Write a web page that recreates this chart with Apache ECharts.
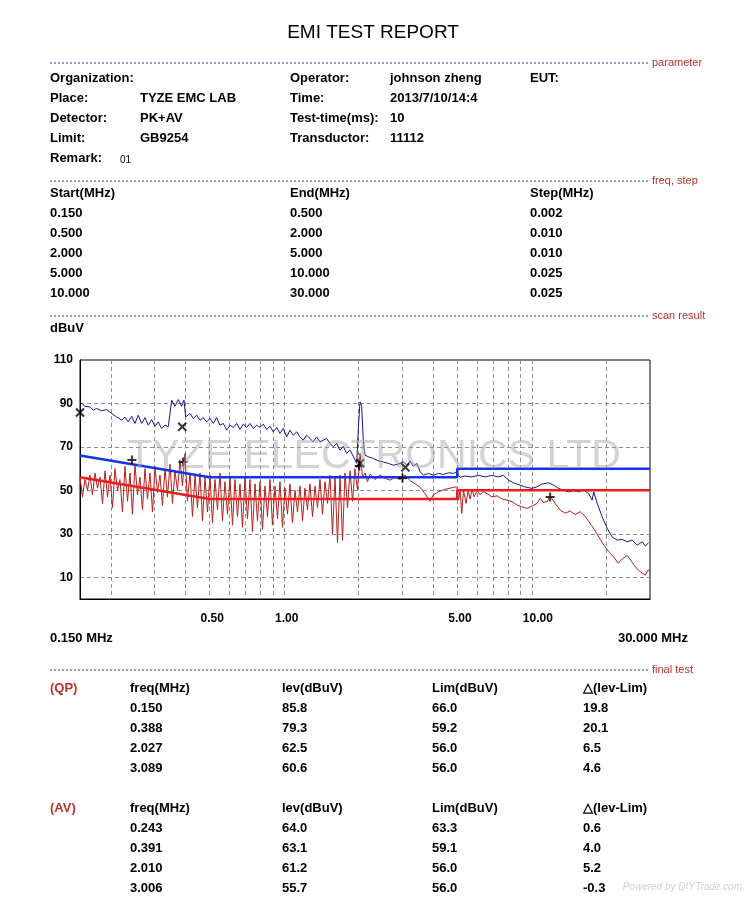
<!DOCTYPE html>
<html>
<head>
<meta charset="utf-8">
<title>EMI TEST REPORT</title>
<script src="https://cdn.jsdelivr.net/npm/echarts@6/dist/echarts.min.js"></script>
<style>
  html, body { margin: 0; padding: 0; background: #fff; }
  #chart { width: 750px; height: 900px; }
</style>
</head>
<body>
<div id="chart"></div>
<script>
// peak detector scan (MHz / dBuV)
const peakFreq = [0.150, 0.157, 0.1646, 0.1697, 0.1752, 0.1835, 0.1923, 0.2013, 0.2110, 0.2210, 0.2279, 0.2350, 0.2425, 0.2500, 0.2578, 0.2661, 0.2744, 0.2829, 0.2921, 0.3011, 0.3105, 0.3205, 0.3305, 0.3408, 0.3517, 0.3627, 0.3740, 0.3860, 0.3943, 0.4006, 0.4169, 0.4298, 0.4441, 0.4575, 0.4718, 0.4869, 0.5021, 0.5177, 0.5344, 0.5510, 0.5682, 0.5865, 0.6047, 0.6236, 0.6436, 0.6637, 0.6844, 0.7064, 0.7283, 0.7511, 0.7751, 0.7993, 0.8243, 0.8506, 0.8771, 0.9045, 0.9335, 0.9626, 0.9927, 1.0245, 1.056, 1.089, 1.124, 1.159, 1.195, 1.233, 1.272, 1.311, 1.353, 1.396, 1.439, 1.485, 1.532, 1.580, 1.630, 1.682, 1.734, 1.789, 1.846, 1.904, 1.965, 1.997, 2.025, 2.057, 2.088, 2.122, 2.187, 2.291, 2.400, 2.515, 2.635, 2.761, 2.893, 3.030, 3.128, 3.225, 3.324, 3.432, 3.539, 3.650, 3.824, 4.006, 4.197, 4.397, 4.607, 4.826, 4.979, 5.056, 5.134, 5.378, 5.723, 6.086, 6.478, 6.893, 7.332, 7.681, 8.047, 8.430, 8.971, 9.398, 10.00, 10.48, 10.98, 11.68, 12.24, 12.82, 13.43, 14.07, 14.74, 15.44, 16.18, 16.95, 17.52, 17.79, 18.37, 19.24, 20.16, 21.12, 22.12, 23.17, 24.28, 25.43, 26.64, 27.91, 28.71, 29.60];
const peakLevel = [90.7, 88.7, 88.4, 86.9, 87.7, 86.6, 87.2, 85.4, 83.8, 82.3, 83.7, 81.5, 84.1, 80.8, 84.6, 80.8, 83.5, 80.0, 82.6, 79.5, 81.5, 78.5, 80.0, 79.3, 91.5, 88.7, 91.8, 88.7, 91.5, 83.8, 85.4, 83.1, 84.6, 82.3, 83.5, 81.5, 83.1, 80.8, 83.5, 80.0, 80.8, 77.7, 80.0, 78.9, 80.8, 78.0, 80.5, 79.0, 80.8, 78.5, 80.0, 79.0, 80.5, 78.0, 79.5, 76.9, 79.0, 76.2, 78.5, 74.6, 77.7, 75.4, 76.9, 74.6, 73.1, 75.4, 73.9, 72.3, 74.6, 72.3, 73.1, 73.9, 71.6, 70.1, 71.6, 68.5, 70.3, 67.0, 68.5, 65.5, 62.4, 80.0, 90.7, 88.7, 73.1, 66.2, 65.5, 64.7, 63.6, 63.1, 62.4, 61.6, 62.1, 63.1, 61.6, 63.6, 61.1, 62.4, 58.6, 57.0, 57.8, 57.0, 57.8, 57.3, 58.1, 57.8, 58.6, 57.0, 56.0, 56.6, 56.2, 56.9, 56.2, 56.9, 56.2, 57.0, 54.7, 53.5, 52.4, 51.6, 50.9, 51.6, 52.9, 53.5, 52.4, 50.9, 50.1, 49.3, 49.8, 49.3, 50.1, 48.6, 45.5, 49.3, 44.0, 37.8, 32.5, 28.5, 27.1, 27.4, 26.3, 27.1, 24.8, 26.3, 24.4, 25.9];

// average detector scan
const avFreq = [0.150, 0.1535, 0.157, 0.1608, 0.1646, 0.1685, 0.1725, 0.1765, 0.1806, 0.1849, 0.1893, 0.1937, 0.1982, 0.2029, 0.2077, 0.2126, 0.2175, 0.2226, 0.2279, 0.2333, 0.2387, 0.2443, 0.2500, 0.2559, 0.2619, 0.2681, 0.2744, 0.2808, 0.2875, 0.2943, 0.3011, 0.3082, 0.3155, 0.3229, 0.3305, 0.3383, 0.3462, 0.3543, 0.3627, 0.3712, 0.3799, 0.3888, 0.3980, 0.4073, 0.4169, 0.4267, 0.4368, 0.4470, 0.4575, 0.4683, 0.4793, 0.4906, 0.5021, 0.5139, 0.5260, 0.5384, 0.5510, 0.5640, 0.5773, 0.5909, 0.6047, 0.6189, 0.6335, 0.6484, 0.6637, 0.6793, 0.6953, 0.7116, 0.7283, 0.7454, 0.7630, 0.7809, 0.7993, 0.8181, 0.8373, 0.8570, 0.8771, 0.8977, 0.9189, 0.9405, 0.9626, 0.9852, 1.0085, 1.032, 1.056, 1.081, 1.107, 1.133, 1.159, 1.187, 1.214, 1.243, 1.272, 1.302, 1.333, 1.364, 1.396, 1.429, 1.463, 1.497, 1.532, 1.568, 1.605, 1.643, 1.682, 1.721, 1.762, 1.803, 1.846, 1.889, 1.933, 1.979, 2.025, 2.074, 2.122, 2.171, 2.223, 2.329, 2.439, 2.556, 2.677, 2.805, 2.938, 3.078, 3.225, 3.378, 3.539, 3.707, 3.884, 3.994, 4.184, 4.465, 4.678, 4.901, 4.993, 5.054, 5.134, 5.216, 5.298, 5.428, 5.530, 5.634, 5.74, 5.85, 6.02, 6.184, 6.36, 6.60, 6.91, 7.24, 7.59, 7.95, 8.33, 8.72, 9.14, 9.57, 10.03, 10.51, 10.81, 11.11, 11.53, 11.86, 12.42, 13.02, 13.64, 14.29, 14.97, 15.68, 16.43, 16.90, 17.53, 18.20, 18.89, 19.61, 20.35, 21.32, 22.33, 23.18, 24.29, 25.20, 26.16, 27.41, 28.71, 29.52, 30.0];
const avLevel = [56, 47, 55, 50, 57, 48, 58, 51, 56, 44, 59, 47, 57, 42, 60, 50, 55, 40, 61, 45, 58, 39, 62, 48, 56, 41, 60, 46, 58, 40, 61, 49, 57, 43, 60, 47, 62, 44, 59, 50, 64, 52, 67, 45, 58, 38, 57, 42, 58, 36, 56, 40, 57, 35, 55, 41, 58, 36, 54, 39, 56, 34, 55, 38, 53, 33, 56, 37, 55, 31, 53, 36, 54, 32, 52, 38, 55, 34, 52, 37, 54, 33, 51, 39, 53, 35, 50, 40, 52, 36, 51, 41, 53, 38, 52, 42, 55, 39, 54, 44, 57, 30, 56, 26, 57, 27, 58, 42, 59, 45, 60, 50, 67, 56, 58, 54, 57.5, 55, 57, 55.5, 54.7, 56, 55, 57, 54.5, 53, 51.5, 48.5, 45, 47.8, 49.3, 50.5, 51, 51.6, 51, 45.5, 50, 39.4, 50, 44, 50, 46, 50.5, 47, 50, 48, 49.5, 48.5, 47, 47.5, 46, 45.5, 44.8, 43.2, 42.4, 41.7, 42.8, 44, 46.3, 44.5, 44.8, 47.5, 44, 40.9, 39.5, 40.5, 38.8, 40.2, 38, 36, 33.5, 30.5, 27.5, 24.5, 22, 19.5, 16.5, 18.5, 20, 17.5, 14.8, 12.5, 11, 13.5, 12.5];

// GB9254 limit lines
const qpLimitFreq = [0.15, 0.5, 5, 5, 30];
const qpLimitLevel = [66, 56, 56, 60, 60];
const avLimitFreq = [0.15, 0.5, 5, 5, 30];
const avLimitLevel = [56, 46, 46, 50, 50];

// final test points
const qpMarkFreq = [0.150, 0.388, 2.027, 3.089];
const qpMarkLevel = [85.8, 79.3, 62.5, 60.6];
const avMarkFreq = [0.243, 0.391, 2.010, 3.006, 11.86];
const avMarkLevel = [64.0, 63.1, 61.2, 55.7, 47.0];

// axes
const xGridValues = [0.2, 0.3, 0.4, 0.5, 0.6, 0.7, 0.8, 0.9, 1, 2, 3, 4, 5, 6, 7, 8, 9, 10, 20];
const xLabelValues = [0.5, 1, 5, 10];
const yGridValues = [10, 30, 50, 70, 90];
const yLabelValues = [10, 30, 50, 70, 90, 110];

// report text
const paramRows = [
  ['Organization:', '', 'Operator:', 'johnson zheng', 'EUT:'],
  ['Place:', 'TYZE EMC LAB', 'Time:', '2013/7/10/14:4', ''],
  ['Detector:', 'PK+AV', 'Test-time(ms):', '10', ''],
  ['Limit:', 'GB9254', 'Transductor:', '11112', '']
];
const stepHead = ['Start(MHz)', 'End(MHz)', 'Step(MHz)'];
const stepStart = ['0.150', '0.500', '2.000', '5.000', '10.000'];
const stepEnd = ['0.500', '2.000', '5.000', '10.000', '30.000'];
const stepSize = ['0.002', '0.010', '0.010', '0.025', '0.025'];
const finalHead = ['freq(MHz)', 'lev(dBuV)', 'Lim(dBuV)', '\u25B3(lev-Lim)'];
const qpFreqText = ['0.150', '0.388', '2.027', '3.089'];
const qpLevText = ['85.8', '79.3', '62.5', '60.6'];
const qpLimText = ['66.0', '59.2', '56.0', '56.0'];
const qpDeltaText = ['19.8', '20.1', '6.5', '4.6'];
const avFreqText = ['0.243', '0.391', '2.010', '3.006'];
const avLevText = ['64.0', '63.1', '61.2', '55.7'];
const avLimText = ['63.3', '59.1', '56.0', '56.0'];
const avDeltaText = ['0.6', '4.0', '5.2', '-0.3'];

const FONT = '"Liberation Sans", Arial, sans-serif';
const zip = (xs, ys) => xs.map((x, i) => [x, ys[i]]);

const chart = echarts.init(document.getElementById('chart'));

const graphic = [];
function text(str, x, y, opts = {}) {
  graphic.push({
    type: 'text',
    x: x,
    y: y,
    z: 10,
    style: {
      text: str,
      fill: opts.color || '#000',
      font: opts.font || ('bold 13px ' + FONT),
      textAlign: opts.align || 'left',
      verticalAlign: 'middle',
      opacity: opts.opacity == null ? 1 : opts.opacity
    }
  });
}
function section(y, name) {
  graphic.push({
    type: 'line',
    shape: { x1: 50, y1: y, x2: 648, y2: y },
    style: { stroke: '#2b3a8f', lineWidth: 1, lineDash: [2, 2] }
  });
  text(name, 652, y, { color: '#b8322c', font: '11px ' + FONT });
}

text('EMI TEST REPORT', 373, 33, { align: 'center', font: '19px ' + FONT });

section(63, 'parameter');
paramRows.forEach((r, i) => {
  const y = 78 + i * 20;
  text(r[0], 50, y);
  text(r[1], 140, y);
  text(r[2], 290, y);
  text(r[3], 390, y);
  text(r[4], 530, y);
});
text('Remark:', 50, 158);
text('01', 120, 160, { font: '10px ' + FONT });

section(181, 'freq, step');
text(stepHead[0], 50, 193);
text(stepHead[1], 290, 193);
text(stepHead[2], 530, 193);
stepStart.forEach((v, i) => {
  const y = 213 + i * 20;
  text(v, 50, y);
  text(stepEnd[i], 290, y);
  text(stepSize[i], 530, y);
});

section(316, 'scan result');
text('dBuV', 50, 328);
text('0.150 MHz', 50, 638);
text('30.000 MHz', 688, 638, { align: 'right' });

section(670, 'final test');
function finalBlock(y0, tag, cols) {
  text(tag, 50, y0, { color: '#b8322c' });
  finalHead.forEach((h, j) => text(h, [130, 282, 432, 583][j], y0));
  cols[0].forEach((v, i) => {
    const y = y0 + 20 + i * 20;
    cols.forEach((c, j) => text(c[i], [130, 282, 432, 583][j], y));
  });
}
finalBlock(688, '(QP)', [qpFreqText, qpLevText, qpLimText, qpDeltaText]);
finalBlock(808, '(AV)', [avFreqText, avLevText, avLimText, avDeltaText]);

text('TYZE ELECTRONICS LTD', 374, 457, { align: 'center', font: '41px ' + FONT, color: '#a8a8a8', opacity: 0.5 });
text('Powered by DIYTrade.com', 742, 887, { align: 'right', font: 'italic 10px ' + FONT, color: '#d0d0d0' });

const gridLine = { show: true, lineStyle: { color: '#8c8c8c', type: [4, 3], width: 1 } };

const option = {
  animation: false,
  backgroundColor: '#fff',
  grid: {
    left: 80, top: 360, width: 570, height: 239,
    show: true, borderColor: '#000', borderWidth: 1, backgroundColor: 'transparent'
  },
  xAxis: {
    type: 'log',
    logBase: 10,
    min: 0.15,
    max: 30,
    axisLine: { lineStyle: { color: '#000', width: 1 } },
    axisTick: { show: false, customValues: xGridValues },
    axisLabel: {
      customValues: xLabelValues,
      formatter: (v) => Number(v).toFixed(2),
      color: '#000',
      fontFamily: FONT,
      fontWeight: 'bold',
      fontSize: 12,
      margin: 14,
      align: 'left',
      padding: [0, 0, 0, -9]
    },
    splitLine: gridLine
  },
  yAxis: {
    type: 'value',
    min: 0,
    max: 110,
    axisLine: { show: true, lineStyle: { color: '#000', width: 1 } },
    axisTick: { show: false, customValues: yGridValues },
    axisLabel: {
      customValues: yLabelValues,
      color: '#000',
      fontFamily: FONT,
      fontWeight: 'bold',
      fontSize: 12,
      margin: 7,
      padding: [6, 0, 0, 0]
    },
    splitLine: gridLine
  },
  graphic: graphic,
  series: [
    {
      name: 'PK',
      type: 'line',
      data: zip(peakFreq, peakLevel),
      showSymbol: false,
      lineStyle: { color: '#16168a', width: 1 },
      z: 2
    },
    {
      name: 'AV',
      type: 'line',
      data: zip(avFreq, avLevel),
      showSymbol: false,
      lineStyle: { color: '#b3201c', width: 1 },
      z: 2
    },
    {
      name: 'QP limit',
      type: 'line',
      data: zip(qpLimitFreq, qpLimitLevel),
      showSymbol: false,
      lineStyle: { color: '#1633e6', width: 2.5 },
      z: 3
    },
    {
      name: 'AV limit',
      type: 'line',
      data: zip(avLimitFreq, avLimitLevel),
      showSymbol: false,
      lineStyle: { color: '#ee1c1c', width: 2.5 },
      z: 3
    },
    {
      name: 'QP final',
      type: 'scatter',
      data: zip(qpMarkFreq, qpMarkLevel),
      symbol: 'path://M0,0L10,10M10,0L0,10',
      symbolSize: 8,
      itemStyle: { color: 'none', borderColor: '#000', borderWidth: 2 },
      z: 5
    },
    {
      name: 'AV final',
      type: 'scatter',
      data: zip(avMarkFreq, avMarkLevel),
      symbol: 'path://M5,0L5,10M0,5L10,5',
      symbolSize: 9,
      itemStyle: { color: 'none', borderColor: '#000', borderWidth: 2 },
      z: 5
    }
  ]
};

chart.setOption(option);
</script>
</body>
</html>
